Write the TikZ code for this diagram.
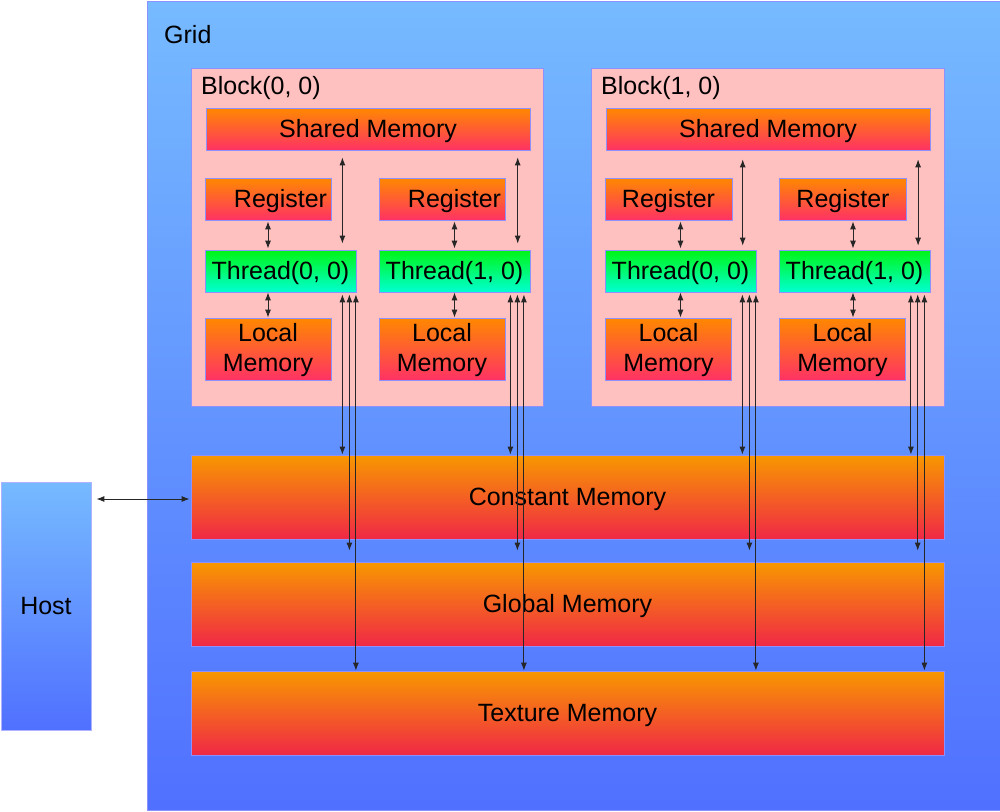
\documentclass[tikz,border=0pt]{standalone}
\usepackage{fontspec}
\setmainfont{Liberation Sans}
\usetikzlibrary{arrows.meta,calc}
\definecolor{gridtop}{RGB}{118,186,255}
\definecolor{gridbot}{RGB}{80,112,255}
\definecolor{blockpink}{RGB}{255,192,192}
\definecolor{edgeblue}{RGB}{140,145,255}
\definecolor{memtop}{RGB}{255,136,0}
\definecolor{membot}{RGB}{255,50,100}
\definecolor{bigtop}{RGB}{248,152,0}
\definecolor{bigbot}{RGB}{240,40,70}
\definecolor{thrtop}{RGB}{0,245,20}
\definecolor{thrbot}{RGB}{0,255,210}
\begin{document}
\begin{tikzpicture}[x=1pt,y=-1pt,
  txt/.style={font=\fontsize{25}{30}\selectfont, text=black},
  box/.style={draw=edgeblue, line width=0.8pt, inner sep=0pt, txt, text height=17.8pt, text depth=0pt},
  gridbox/.style={box, top color=gridtop, bottom color=gridbot},
  blockbox/.style={draw=edgeblue, line width=0.8pt, fill=blockpink, minimum width=352pt, minimum height=338pt, inner sep=0pt},
  smallmem/.style={box, top color=memtop, bottom color=membot, minimum width=126pt, minimum height=42pt},
  sharedmem/.style={smallmem, minimum width=324pt},
  localmem/.style={smallmem, align=center, minimum height=62pt, text height=47.8pt, text depth=3.8pt},
  thread/.style={box, top color=thrtop, bottom color=thrbot, minimum width=151pt, minimum height=42pt},
  bigmem/.style={box, top color=bigtop, bottom color=bigbot, minimum width=753pt, minimum height=84pt},
  lbl/.style={txt, anchor=base west, inner sep=0pt},
  arr/.style={{Latex[length=8pt,width=6pt]}-{Latex[length=8pt,width=6pt]}, line width=0.9pt, draw=black!85}
]
\useasboundingbox (0,0) rectangle (1000,811);
% grid and host
\node[gridbox, minimum width=853pt, minimum height=809pt] (grid) at (573.5,405.5) {};
\node[lbl] (gridlbl) at (164,43) {Grid};
\node[gridbox, draw=edgeblue!70, minimum width=90pt, minimum height=248pt] (host) at (46,606) {Host};
% blocks
\node[blockbox] (b00) at (367,237) {};
\node[blockbox, minimum width=353pt] (b10) at (767.5,237) {};
\node[lbl] (b00lbl) at (201,94) {Block(0, 0)};
\node[lbl] (b10lbl) at (601,94) {Block(1, 0)};
% block (0,0)
\node[sharedmem] (sm0) at (368,129) {Shared Memory};
\node[smallmem] (r00) at (268,199) {\hspace*{25pt}Register};
\node[smallmem] (r10) at (442,199) {\hspace*{25pt}Register};
\node[thread] (t00) at (280.5,271) {Thread(0, 0)};
\node[thread] (t10) at (454.5,271) {Thread(1, 0)};
\node[localmem] (l00) at (268,349) {Local\\Memory};
\node[localmem] (l10) at (442,349) {Local\\Memory};
% block (1,0)
\node[sharedmem] (sm1) at (768,129) {Shared Memory};
\node[smallmem, minimum width=127pt] (r01) at (668.5,199) {Register};
\node[smallmem, minimum width=127pt] (r11) at (843,199) {Register};
\node[thread] (t01) at (680.5,271) {Thread(0, 0)};
\node[thread] (t11) at (854.5,271) {Thread(1, 0)};
\node[localmem] (l01) at (668.5,349) {Local\\Memory};
\node[localmem] (l11) at (842.5,349) {Local\\Memory};
% device memories
\node[bigmem] (cm) at (567.5,497) {Constant Memory};
\node[bigmem] (gm) at (567.5,604) {Global Memory};
\node[bigmem] (tm) at (567.5,713) {Texture Memory};
% host <-> constant
\draw[arr] ([xshift=5pt,yshift=-2pt]host.east |- cm.west) -- ([xshift=-1pt,yshift=-2pt]cm.west);
% register <-> thread
\draw[arr] ([yshift=-1pt]r00.south) -- ([yshift=1pt]r00.south |- t00.north);
\draw[arr] ([yshift=-1pt]t10.north |- r10.south) -- ([yshift=1pt]t10.north);
\draw[arr] ([yshift=-1pt]t01.north |- r01.south) -- ([yshift=1pt]t01.north);
\draw[arr] ([xshift=-1.5pt,yshift=-1pt]t11.north |- r11.south) -- ([xshift=-1.5pt,yshift=1pt]t11.north);
% thread <-> local
\draw[arr] (l00.north |- t00.south) -- (l00.north);
\draw[arr] (t10.south) -- (t10.south |- l10.north);
\draw[arr] (t01.south) -- (t01.south |- l01.north);
\draw[arr] ([xshift=-1.5pt]t11.south) -- ([xshift=-1.5pt]t11.south |- l11.north);
% shared <-> thread
\draw[arr] ([xshift=-14pt,yshift=-7pt]t00.north east |- sm0.south) -- ([xshift=-14pt,yshift=6pt]t00.north east);
\draw[arr] ([xshift=-12.7pt,yshift=-7pt]t10.north east |- sm0.south) -- ([xshift=-12.7pt,yshift=6pt]t10.north east);
\draw[arr] ([xshift=-13.7pt,yshift=-9pt]t01.north east |- sm1.south) -- ([xshift=-13.7pt,yshift=4pt]t01.north east);
\draw[arr] ([xshift=-12.3pt,yshift=-9pt]t11.north east |- sm1.south) -- ([xshift=-12.3pt,yshift=4pt]t11.north east);
% thread <-> constant / global / texture
\foreach \t/\a/\b/\c in {t00/-14/-7/-0.5, t10/-20/-13/-6.5, t01/-14/-7/-0.5, t11/-19.5/-12.7/-6}{
  \draw[arr] ([xshift=\a pt,yshift=-2pt]\t.south east) -- ([xshift=\a pt]\t.south east |- cm.north);
  \draw[arr] ([xshift=\b pt,yshift=-2pt]\t.south east) -- ([xshift=\b pt,yshift=11pt]\t.south east |- gm.north);
  \draw[arr] ([xshift=\c pt,yshift=-2pt]\t.south east) -- ([xshift=\c pt]\t.south east |- tm.north);
}
\end{tikzpicture}
\end{document}
